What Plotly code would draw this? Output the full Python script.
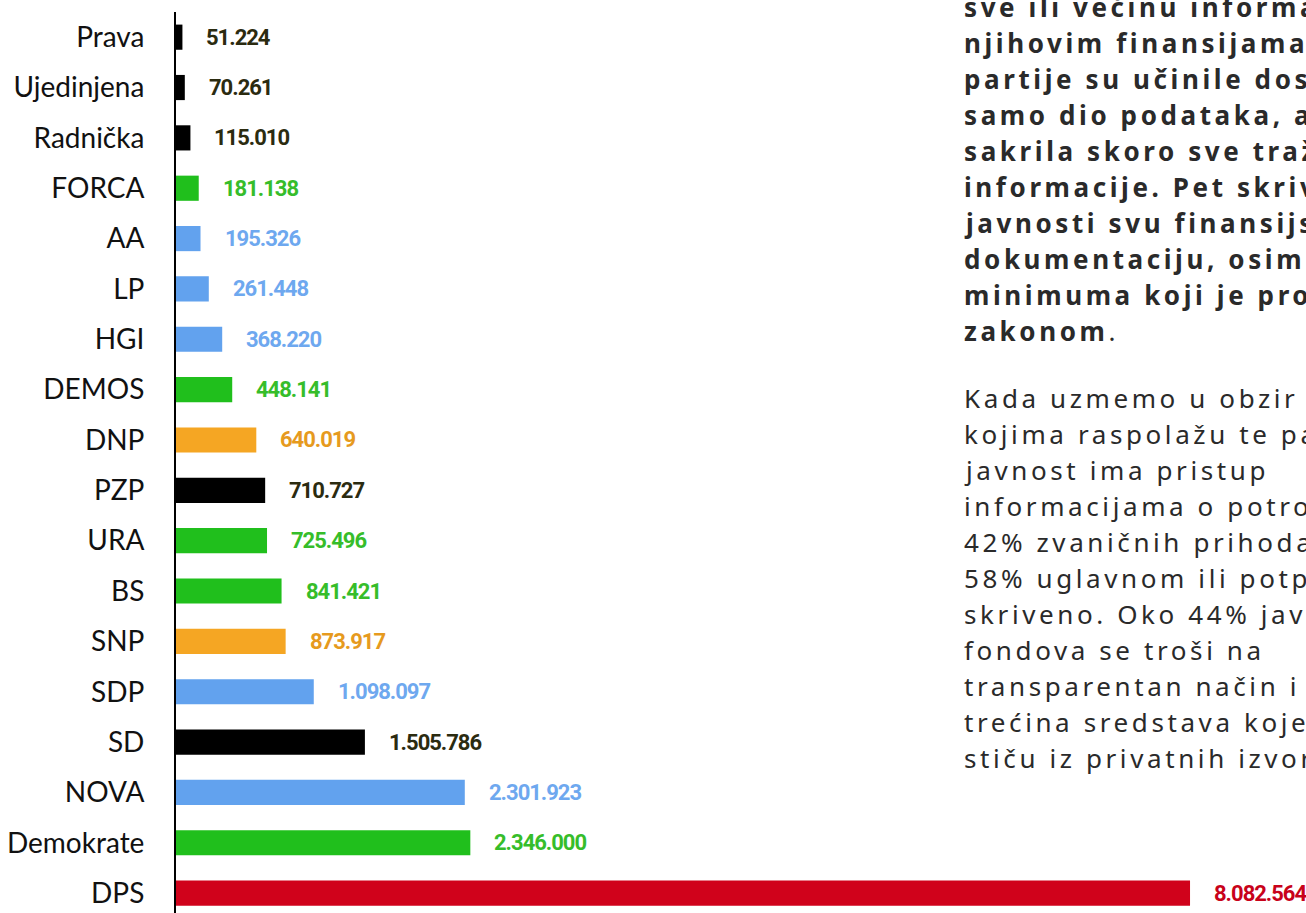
import plotly.graph_objects as go

parties = ["Prava", "Ujedinjena", "Radnička", "FORCA", "AA", "LP", "HGI", "DEMOS",
           "DNP", "PZP", "URA", "BS", "SNP", "SDP", "SD", "NOVA", "Demokrate", "DPS"]
amounts = [51224, 70261, 115010, 181138, 195326, 261448, 368220, 448141,
           640019, 710727, 725496, 841421, 873917, 1098097, 1505786, 2301923, 2346000, 8082564]
groups = ["black", "black", "black", "green", "blue", "blue", "blue", "green",
          "orange", "black", "green", "green", "orange", "blue", "black", "blue", "green", "red"]

bar_colors = {"black": "#000000", "green": "#20bf1c", "blue": "#62a2ee",
              "orange": "#f5a623", "red": "#d0021b"}
label_colors = {"black": "#2b2b10", "green": "#36bd2a", "blue": "#6ea8ef",
                "orange": "#e69a1e", "red": "#c8021a"}

bold_lines = [
    "sve ili većinu informacija o",
    "njihovim finansijama. Tri",
    "partije su učinile dostupnim",
    "samo dio podataka, a jedna je",
    "sakrila skoro sve tražene",
    "informacije. Pet skrivaju od",
    "javnosti svu finansijsku",
    "dokumentaciju, osim",
    "minimuma koji je propisan",
    "zakonom",
]
regular_lines = [
    "Kada uzmemo u obzir sredstva",
    "kojima raspolažu te partije,",
    "javnost ima pristup",
    "informacijama o potrošnji",
    "42% zvaničnih prihoda, dok je",
    "58% uglavnom ili potpuno",
    "skriveno. Oko 44% javnih",
    "fondova se troši na",
    "transparentan način i tek",
    "trećina sredstava koje",
    "stiču iz privatnih izvora.",
]


def fmt(v):
    return f"{v:,}".replace(",", ".")


fig = go.Figure()
fig.add_trace(go.Bar(
    y=parties, x=amounts, orientation="h", width=0.5,
    marker=dict(color=[bar_colors[g] for g in groups], line=dict(width=0)),
    hoverinfo="skip",
))

annotations = []
for p, v, g in zip(parties, amounts, groups):
    annotations.append(dict(
        x=v, y=p, xref="x", yref="y",
        text=f"<span style='letter-spacing:-1px'>{fmt(v)}</span>", showarrow=False,
        xanchor="left", yanchor="middle", xshift=22,
        font=dict(family="Roboto", size=22,
                  color=label_colors[g], weight="bold"),
    ))

para_font = dict(family="Noto Sans, Open Sans", size=26, color="#2a2a2a")
LS = "letter-spacing:3.6px"
for i, line in enumerate(bold_lines):
    txt = f"<span style='{LS}'><b>{line}</b>{'.' if line == 'zakonom' else ''}</span>"
    annotations.append(dict(
        x=0.6956, y=1, xref="paper", yref="paper", text=txt, showarrow=False,
        xanchor="left", yanchor="middle", align="left", yshift=5 - 36 * i,
        font=para_font,
    ))
for i, line in enumerate(regular_lines):
    annotations.append(dict(
        x=0.6956, y=1, xref="paper", yref="paper",
        text=f"<span style='{LS}'>{line}</span>", showarrow=False,
        xanchor="left", yanchor="middle", align="left", yshift=-(386 + 36 * i),
        font=para_font,
    ))

fig.update_layout(
    width=1306, height=913,
    margin=dict(l=176, r=0, t=12, b=0),
    paper_bgcolor="white", plot_bgcolor="white",
    showlegend=False,
    annotations=annotations,
    xaxis=dict(range=[0, 9006900], showgrid=False, zeroline=False,
               showticklabels=False, showline=False, ticks=""),
    yaxis=dict(categoryorder="array", categoryarray=parties,
               range=[17.395, -0.5], showgrid=False, zeroline=False,
               showline=True, linecolor="#000000", linewidth=2, ticks="",
               ticklabelstandoff=24,
               tickfont=dict(family="Lato", size=28, color="#111111")),
)

fig.write_html(
    "out.html",
    config={"displayModeBar": False},
    post_script="document.body.style.margin='0';document.body.style.overflow='hidden';",
)
